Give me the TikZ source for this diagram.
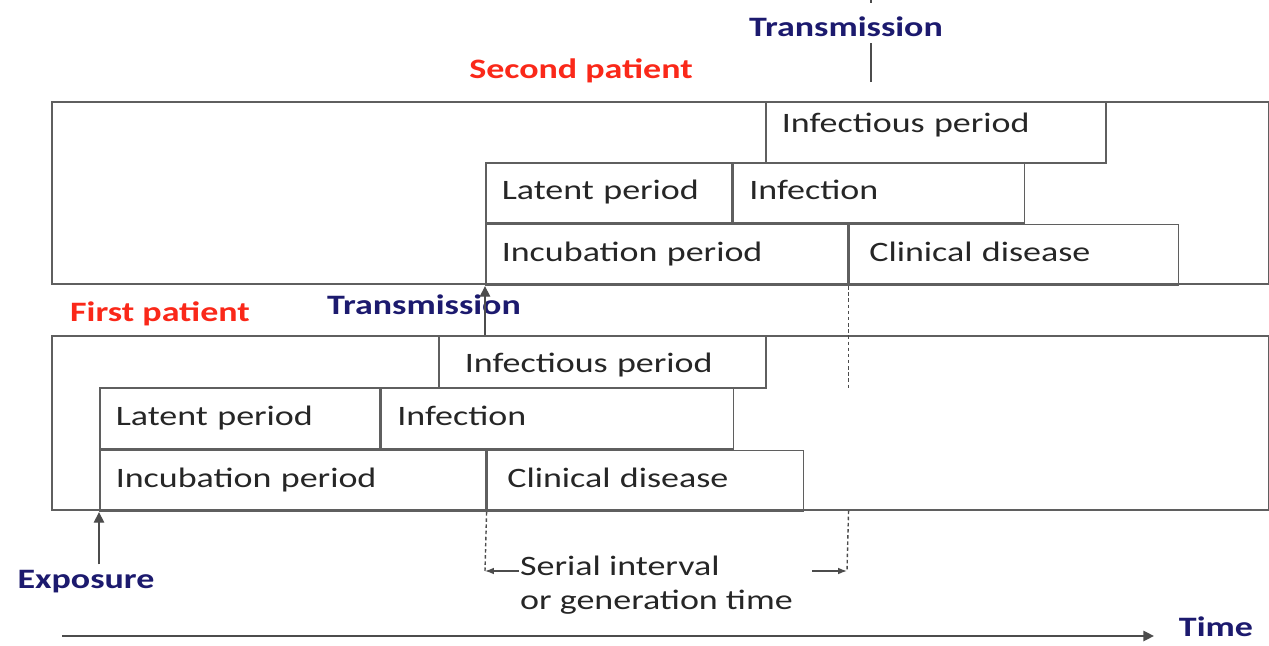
\documentclass[tikz,border=0pt]{standalone}
\usepackage{fontspec}
\setmainfont{Carlito}[FakeStretch=1.28]
\usetikzlibrary{arrows.meta, positioning}
\definecolor{navy}{RGB}{28,26,110}
\definecolor{redlbl}{RGB}{250,40,25}
\definecolor{boxline}{RGB}{95,95,95}
\tikzset{
x=0.02cm, y=-0.02cm, % one unit is one pixel of the sketch, y runs downwards
every node/.style={font=\fontsize{16}{19}\selectfont, text=black!85}, % plain text of the boxes
line/.style={draw=black!70, line width=0.8pt}, % connectors
}
\begin{document}
\begin{tikzpicture}[box/.style 2 args = {draw=boxline, line width=0.9pt, anchor=north west, inner sep=0pt, minimum width=#1*0.02cm, minimum height=#2*0.02cm},
    period/.style 2 args = {box={#1}{#2}, inner xsep=0.32cm, text width=#1*0.02cm-0.64cm, align=left, text height=11pt, text depth=3pt},
    tag/.style = {font=\fontsize{16}{19}\selectfont\bfseries, text=navy},
    tip/.style = {-{Triangle[length=6pt,width=6pt]}}]
    \useasboundingbox (0,0) rectangle (1269,646);
    % second patient
    \node[box={1217}{182}] (pat2) at (51,101) {};
    \node[period={340}{61}, text depth=11pt] (inf2) at (765,101) {Infectious period};
    \node[period={246}{60}] (lat2) at (485,162) {Latent period};
    \node[period={291}{60}] (ifn2) at (lat2.north east) {Infection};
    \node[period={362}{61}] (inc2) at (lat2.south west) {Incubation period};
    \node[period={329}{61}] (cd2) at (inc2.north east) {\hspace*{0.08cm}Clinical disease};
    % first patient
    \node[box={1217}{174}] (pat1) at (51,335) {};
    \node[period={327}{52}, text height=15pt] (inf1) at (438,335) {\hspace*{0.2cm}Infectious period};
    \node[period={280}{61}] (lat1) at (99,387) {Latent period};
    \node[period={352}{61}] (ifn1) at (lat1.north east) {Infection};
    \node[period={386}{61}] (inc1) at (lat1.south west) {Incubation period};
    \node[period={316}{61}] (cd1) at (inc1.north east) {\hspace*{0.08cm}Clinical disease};
    % labels
    \node[tag, text=redlbl] (sec) at (581,71) {Second patient};
    \node[tag, text=redlbl] (fst) at (160,314) {First patient};
    \node[tag] (tr2) at (846,27) {Transmission};
    \node[tag] (tr1) at (424,305) {Transmission};
    \node[tag] (expo) at (86,582) {Exposure};
    \node[tag, inner sep=1pt] (time) at (1216,627) {Time};
    \node[align=left, anchor=west] (serial) at (514,585) {Serial interval\\or generation time};
    % connectors
    \coordinate (tx) at (871,82);
    \draw[line] (tx) -- (tx |- tr2.south);
    \draw[line] (tx |- 0,0) -- (tx |- 0,3);
    \draw[line, tip] (inc2.south west |- pat1.north) -- (inc2.south west);
    \draw[line, tip] (inc1.south west |- expo.north) -- (inc1.south west);
    \coordinate (sL) at (485,571);
    \coordinate (sR) at (847,571);
    \draw[line, dash pattern=on 2pt off 1.5pt] (inc2.south east) -- (inc2.south east |- inf1.south);
    \draw[line, dash pattern=on 2pt off 1.5pt] (cd1.south west) -- (sL);
    \draw[line, dash pattern=on 2pt off 1.5pt] (inc2.south east |- pat1.south) -- (sR);
    \draw[line, -{Latex[length=5pt]}] ([xshift=0.1cm]serial.west |- sL) -- (sL);
    \draw[line, -{Latex[length=5pt]}] ([xshift=-0.7cm]sR) -- (sR);
    \coordinate (t0) at (62,636);
    \draw[line, tip] (t0) -- ([xshift=-0.46cm]time.west |- t0);
\end{tikzpicture}
\end{document}
